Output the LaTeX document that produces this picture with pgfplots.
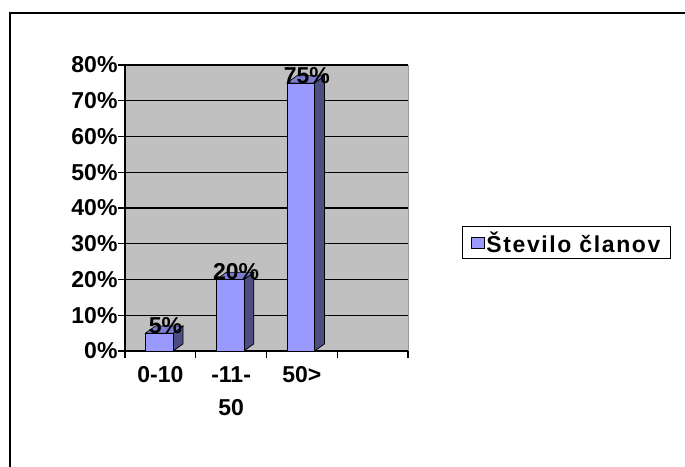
\documentclass[border=0pt]{standalone}
\usepackage{fontspec}
\setmainfont{Liberation Sans}
\newfontfamily\legfont[LetterSpace=7]{Liberation Sans}
\usepackage{pgfplots}
\pgfplotsset{compat=1.18}
\definecolor{wallgray}{HTML}{C0C0C0}
\definecolor{barfront}{HTML}{9999FF}
\definecolor{barside}{HTML}{4D4D82}
\definecolor{bartop}{HTML}{7D7DD0}
\newcommand\lbl{\fontsize{23bp}{33bp}\selectfont\bfseries}
\begin{document}
\begin{tikzpicture}
\useasboundingbox (0,0) rectangle (685bp,467bp);
\draw[line width=2bp] (10bp,-5bp) -- (10bp,454bp) -- (690bp,454bp);
\begin{axis}[
  at={(125bp,116bp)}, anchor=south west,
  scale only axis, width=283bp, height=286bp,
  xmin=-0.5, xmax=3.5, ymin=0, ymax=80,
  clip=false,
  /pgf/number format/assume math mode=true,
  axis background/.style={fill=wallgray, draw=gray!80},
  axis x line*=bottom, axis y line*=left,
  axis line style={black, line width=1.6bp, -},
  xtick={-0.5,0.5,1.5,2.5,3.5},
  x tick label as interval,
  xticklabels={0-10,{-11-\\50},50>,{}},
  xticklabel style={font=\lbl, align=center, yshift=-5bp},
  ytick={0,10,...,80},
  yticklabels={0\%,10\%,20\%,30\%,40\%,50\%,60\%,70\%,80\%},
  yticklabel style={font=\lbl, xshift=3bp},
  tick align=outside, major tick length=7bp,
  tick style={black, line width=1.3bp},
  ymajorgrids, grid style={black, line width=1.3bp},
  legend style={at={(1.56,0.379)}, anchor=center, draw=black, line width=1.3bp,
    font=\lbl\legfont, inner xsep=8bp, inner ysep=3bp},
  legend image code/.code={\draw[fill=barfront, draw=black, line width=0.9bp] (0bp,-5.5bp) rectangle (13bp,5.5bp);},
]
% side faces
\addplot[fill=barside, draw=black, line width=0.7bp, forget plot] coordinates {(0.18,0)(0.321,2)(0.321,7)(0.18,5)} -- cycle;
\addplot[fill=barside, draw=black, line width=0.7bp, forget plot] coordinates {(1.18,0)(1.321,2)(1.321,22)(1.18,20)} -- cycle;
\addplot[fill=barside, draw=black, line width=0.7bp, forget plot] coordinates {(2.18,0)(2.321,2)(2.321,77)(2.18,75)} -- cycle;
% top faces
\addplot[fill=bartop, draw=black, line width=0.7bp, forget plot] coordinates {(-0.21,5)(0.18,5)(0.321,7)(-0.069,7)} -- cycle;
\addplot[fill=bartop, draw=black, line width=0.7bp, forget plot] coordinates {(0.79,20)(1.18,20)(1.321,22)(0.931,22)} -- cycle;
\addplot[fill=bartop, draw=black, line width=0.7bp, forget plot] coordinates {(1.79,75)(2.18,75)(2.321,77)(1.931,77)} -- cycle;
% front faces with labels
\addplot[ybar, bar width=0.39, bar shift=-0.015, fill=barfront, draw=black, line width=0.7bp,
  nodes near coords={\pgfmathprintnumber{\pgfplotspointmeta}\%},
  every node near coord/.append style={font=\lbl, anchor=south, inner sep=0pt, xshift=5bp, yshift=-1bp, text=black}]
  coordinates {(0,5)(1,20)(2,75)};
\addlegendentry{Število članov}
\end{axis}
\end{tikzpicture}
\end{document}
